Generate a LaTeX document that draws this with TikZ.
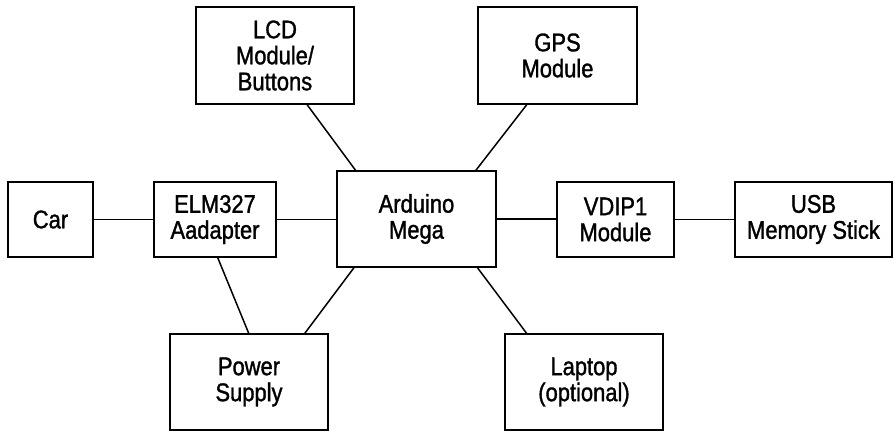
\documentclass[tikz,border=0pt]{standalone}
\usepackage{fontspec}
\setmainfont[FakeStretch=0.86,FakeBold=1.3]{Liberation Sans}
\usetikzlibrary{calc}
\begin{document}
\begin{tikzpicture}[x=1pt,y=-1pt,
  blk/.style={draw=black, line width=1.7pt, fill=white, inner sep=0pt, outer sep=0pt,
    align=center, font=\fontsize{25.5}{26}\selectfont},
  wire/.style={draw=black, line width=1.5pt}]
\useasboundingbox[fill=white] (0,0) rectangle (896,432);
% left, top, right, bottom
\node[blk, minimum width=85pt, minimum height=75pt] (car) at (50.5,219.5) {Car};
\node[blk, minimum width=122pt, minimum height=75pt] (elm) at (215,219.5) {ELM327\\Aadapter};
\node[blk, minimum width=159pt, minimum height=96pt] (ard) at (416.5,219) {Arduino\\Mega};
\node[blk, minimum width=117pt, minimum height=75pt] (vdip) at (615.5,219.5) {VDIP1\\Module};
\node[blk, minimum width=157pt, minimum height=75pt] (usb) at (813.5,219.5) {USB\\Memory Stick};
\node[blk, minimum width=158pt, minimum height=97pt] (lcd) at (275,55.5) {LCD\\Module/\\Buttons};
\node[blk, minimum width=159pt, minimum height=97pt] (gps) at (557.5,55.5) {GPS\\Module};
\node[blk, minimum width=158pt, minimum height=96pt] (pwr) at (249,382) {Power\\Supply};
\node[blk, minimum width=158pt, minimum height=96pt] (lap) at (584,382) {Laptop\\(optional)};
% connectors
\draw[wire] (car.east) -- (car.east -| elm.west);
\draw[wire] (elm.east) -- (elm.east -| ard.west);
\draw[wire] (ard.east) -- (ard.east -| vdip.west);
\draw[wire] (vdip.east) -- (vdip.east -| usb.west);
\draw[wire] ($(lcd.south west)!0.70!(lcd.south east)$) -- ($(ard.north west)!0.12!(ard.north east)$);
\draw[wire] ($(gps.south west)!0.31!(gps.south east)$) -- ($(ard.north west)!0.87!(ard.north east)$);
\draw[wire] ($(elm.south west)!0.52!(elm.south east)$) -- ($(pwr.north west)!0.5!(pwr.north east)$);
\draw[wire] ($(ard.south west)!0.11!(ard.south east)$) -- ($(pwr.north west)!0.85!(pwr.north east)$);
\draw[wire] ($(ard.south west)!0.88!(ard.south east)$) -- ($(lap.north west)!0.14!(lap.north east)$);
\end{tikzpicture}
\end{document}
